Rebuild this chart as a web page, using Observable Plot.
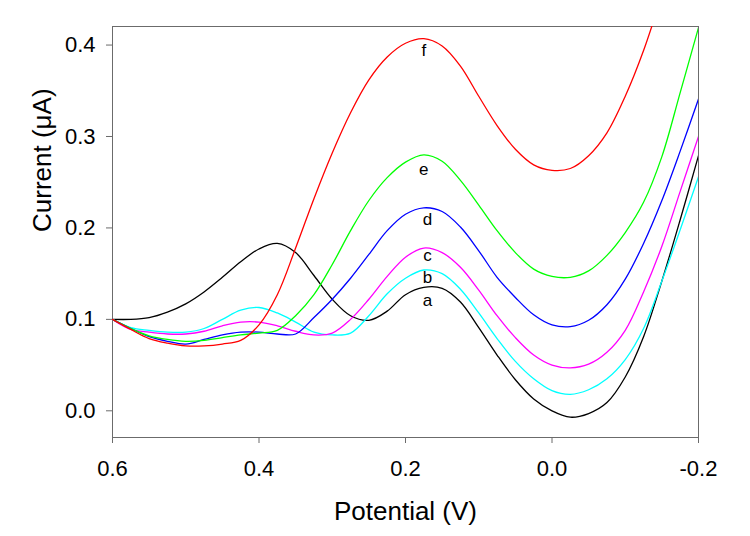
<!DOCTYPE html>
<html>
<head>
<meta charset="utf-8">
<script src="https://cdn.jsdelivr.net/npm/d3@7"></script>
<script src="https://cdn.jsdelivr.net/npm/@observablehq/plot@0.6"></script>
<style>
  html, body { margin: 0; padding: 0; background: #fff; }
  #chart { width: 750px; height: 536px; }
</style>
</head>
<body>
<div id="chart"></div>
<script>
// Potential grid (V)
const potential = [0.6, 0.575, 0.55, 0.525, 0.5, 0.475, 0.45, 0.425, 0.4, 0.375, 0.35, 0.325, 0.3, 0.275, 0.25, 0.225, 0.2, 0.175, 0.15, 0.125, 0.1, 0.075, 0.05, 0.025, 0, -0.025, -0.05, -0.075, -0.1, -0.125, -0.15, -0.175, -0.2];

// Current (µA) for each curve
const curveA = [0.100, 0.100, 0.102, 0.108, 0.117, 0.130, 0.146, 0.163, 0.177, 0.183, 0.173, 0.148, 0.122, 0.104, 0.099, 0.109, 0.127, 0.135, 0.134, 0.119, 0.091, 0.061, 0.034, 0.013, 0.000, -0.007, -0.003, 0.009, 0.037, 0.081, 0.142, 0.209, 0.279];
const curveB = [0.100, 0.091, 0.088, 0.086, 0.086, 0.090, 0.100, 0.110, 0.113, 0.107, 0.097, 0.086, 0.083, 0.085, 0.104, 0.128, 0.145, 0.154, 0.150, 0.133, 0.107, 0.079, 0.054, 0.035, 0.022, 0.018, 0.023, 0.035, 0.056, 0.090, 0.142, 0.198, 0.256];
const curveC = [0.100, 0.089, 0.086, 0.084, 0.084, 0.087, 0.093, 0.097, 0.097, 0.093, 0.087, 0.083, 0.085, 0.100, 0.122, 0.147, 0.168, 0.178, 0.173, 0.157, 0.132, 0.104, 0.080, 0.061, 0.050, 0.047, 0.051, 0.064, 0.088, 0.130, 0.180, 0.240, 0.300];
const curveD = [0.100, 0.090, 0.081, 0.076, 0.073, 0.078, 0.083, 0.086, 0.086, 0.084, 0.084, 0.102, 0.122, 0.145, 0.171, 0.197, 0.215, 0.222, 0.218, 0.201, 0.175, 0.146, 0.124, 0.105, 0.094, 0.092, 0.099, 0.116, 0.144, 0.183, 0.230, 0.284, 0.341];
const curveE = [0.100, 0.090, 0.082, 0.078, 0.076, 0.077, 0.080, 0.083, 0.085, 0.088, 0.104, 0.127, 0.160, 0.197, 0.230, 0.255, 0.272, 0.280, 0.273, 0.252, 0.225, 0.197, 0.173, 0.155, 0.147, 0.146, 0.153, 0.170, 0.195, 0.228, 0.278, 0.348, 0.419];
const curveF = [0.100, 0.089, 0.079, 0.074, 0.071, 0.071, 0.073, 0.077, 0.094, 0.127, 0.178, 0.232, 0.282, 0.326, 0.362, 0.387, 0.402, 0.407, 0.399, 0.377, 0.344, 0.312, 0.286, 0.269, 0.263, 0.265, 0.279, 0.304, 0.344, 0.394, 0.455];

const seriesNames = ["a", "b", "c", "d", "e", "f"];
const seriesColors = ["#000000", "#00ffff", "#ff00ff", "#0000ff", "#00ff00", "#ff0000"];
const seriesValues = [curveA, curveB, curveC, curveD, curveE, curveF];

// Curve labels (letter, potential, current)
const labelText = ["a", "b", "c", "d", "e", "f"];
const labelPotential = [0.17, 0.17, 0.17, 0.17, 0.175, 0.175];
const labelCurrent = [0.121, 0.146, 0.170, 0.209, 0.264, 0.394];

const xTicks = [0.6, 0.4, 0.2, 0.0, -0.2];
const yTicks = [0.0, 0.1, 0.2, 0.3, 0.4];

const rows = [];
seriesValues.forEach((vals, s) => {
  vals.forEach((v, i) => rows.push({series: seriesNames[s], potential: potential[i], current: v}));
});
const labels = labelText.map((t, i) => ({text: t, potential: labelPotential[i], current: labelCurrent[i]}));

const fontFamily = "'Liberation Sans', Arial, Helvetica, sans-serif";

const chart = Plot.plot({
  width: 750,
  height: 536,
  marginLeft: 112,
  marginRight: 52,
  marginTop: 26,
  marginBottom: 99,
  style: {fontFamily, fontSize: "22px", background: "#fff", color: "#000"},
  x: {domain: [0.6, -0.2], label: null},
  y: {domain: [-0.0292, 0.4203], label: null},
  color: {domain: seriesNames, range: seriesColors},
  marks: [
    Plot.frame({stroke: "#6b6b6b", strokeWidth: 1}),
    Plot.axisX({ticks: xTicks, tickFormat: d => d.toFixed(1), tickSize: 6, tickPadding: 17, stroke: "#6b6b6b", fill: "#000", fontSize: 22, label: null}),
    Plot.axisY({ticks: yTicks, tickFormat: d => d.toFixed(1), tickSize: 6, tickPadding: 11, stroke: "#6b6b6b", fill: "#000", fontSize: 22, label: null}),
    Plot.line(rows, {x: "potential", y: "current", z: "series", stroke: "series", strokeWidth: 1.3, curve: "catmull-rom", clip: true}),
    Plot.text(labels, {x: "potential", y: "current", text: "text", fontSize: 17, fill: "#000"}),
    Plot.text(["Potential (V)"], {text: d => d, frameAnchor: "bottom", dy: 74, fontSize: 26, fill: "#000", lineAnchor: "middle"}),
    Plot.text(["Current (μA)"], {text: d => d, frameAnchor: "left", dx: -70, rotate: -90, fontSize: 26, fill: "#000", lineAnchor: "middle"})
  ]
});

document.getElementById("chart").appendChild(chart);
</script>
</body>
</html>
